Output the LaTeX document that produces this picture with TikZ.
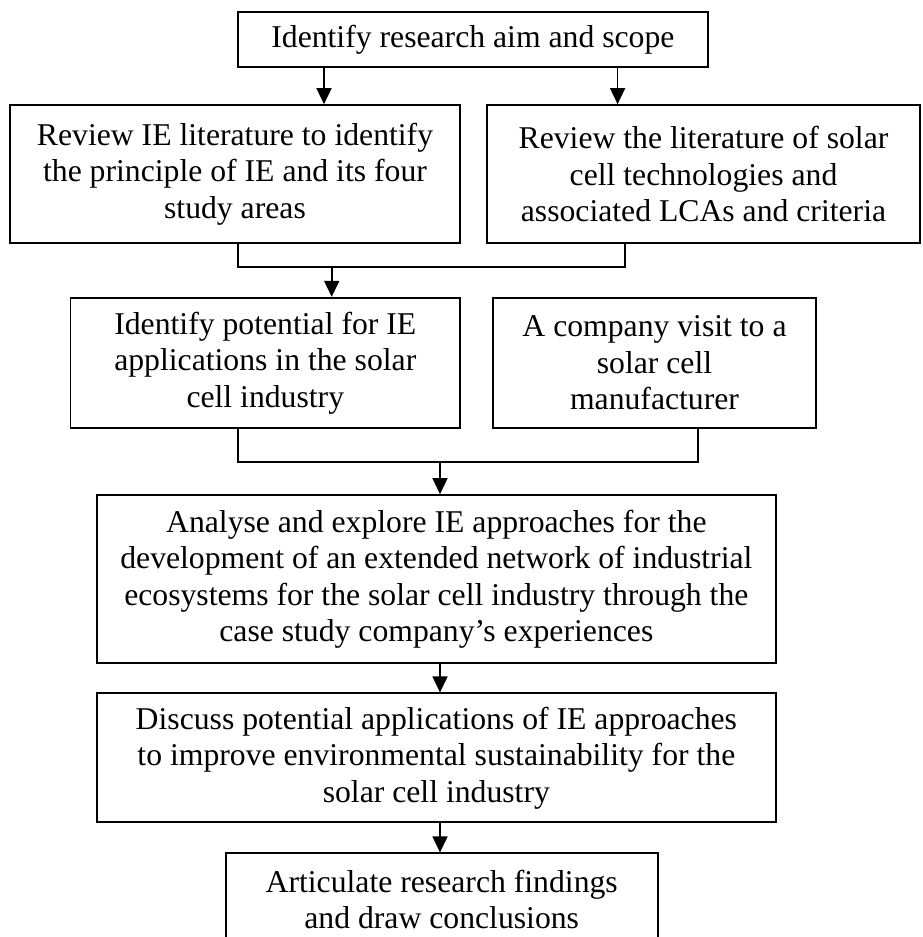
\documentclass[tikz,border=0pt]{standalone}
\usepackage{fontspec}
\setmainfont{Liberation Serif}
\usetikzlibrary{arrows.meta}
\begin{document}
\begin{tikzpicture}[x=1pt,y=-1pt,
  box/.style={draw, line width=1.7pt, align=center, inner sep=0pt,
    font=\fontsize{31.7}{36.5}\selectfont},
  conn/.style={line width=1.7pt},
  arr/.style={line width=1.7pt, -{Triangle[length=16pt,width=15pt]}}]
\useasboundingbox (0,0) rectangle (922,937);
\clip (0,0) rectangle (922,937);
\node[box, minimum width=470.3pt, minimum height=55.3pt] (b1) at (472.9,39.4) {Identify research aim and scope};
\node[box, minimum width=450pt, minimum height=138pt] (b2) at (235,174) {Review IE literature to identify\\the principle of IE and its four\\study areas};
\node[box, minimum width=433pt, minimum height=138pt] (b3) at (703.5,174) {Review the literature of solar\\cell technologies and\\associated LCAs and criteria};
\node[box, minimum width=389.4pt, minimum height=130.6pt] (b4) at (265.3,363) {Identify potential for IE\\applications in the solar\\cell industry};
\node[box, minimum width=323pt, minimum height=130.6pt] (b5) at (654.5,363) {A company visit to a\\solar cell\\manufacturer};
\node[box, minimum width=679.3pt, minimum height=168.3pt] (b6) at (436.35,579.15) {Analyse and explore IE approaches for the\\development of an extended network of industrial\\ecosystems for the solar cell industry through the\\case study company’s experiences};
\node[box, minimum width=679.3pt, minimum height=129pt] (b7) at (436.35,757.8) {Discuss potential applications of IE approaches\\to improve environmental sustainability for the\\solar cell industry};
\node[box, minimum width=432pt, minimum height=92pt] (b8) at (441.7,899.3) {Articulate research findings\\and draw conclusions};
% coordinates
\coordinate (a1) at (324,0);
\coordinate (a2) at (617.6,0);
\coordinate (j1a) at (237.7,267.3);
\coordinate (j1b) at (625,267.3);
\coordinate (j1c) at (331.7,267.3);
\coordinate (j2a) at (237.7,461.7);
\coordinate (j2b) at (698.3,461.7);
\coordinate (j2c) at (440,461.7);
\coordinate (a3) at (440,0);
% connectors
\draw[arr] (b1.south -| a1) -- (b2.north -| a1);
\draw[arr] (b1.south -| a2) -- (b3.north -| a2);
\draw[conn] (b2.south -| j1a) -- (j1a) -- (j1b) -- (b3.south -| j1b);
\draw[arr] (j1c) -- (b4.north -| j1c);
\draw[conn] (b4.south -| j2a) -- (j2a) -- (j2b) -- (b5.south -| j2b);
\draw[arr] (j2c) -- (b6.north -| j2c);
\draw[arr] (b6.south -| a3) -- (b7.north -| a3);
\draw[arr] (b7.south -| a3) -- (b8.north -| a3);
\end{tikzpicture}
\end{document}
